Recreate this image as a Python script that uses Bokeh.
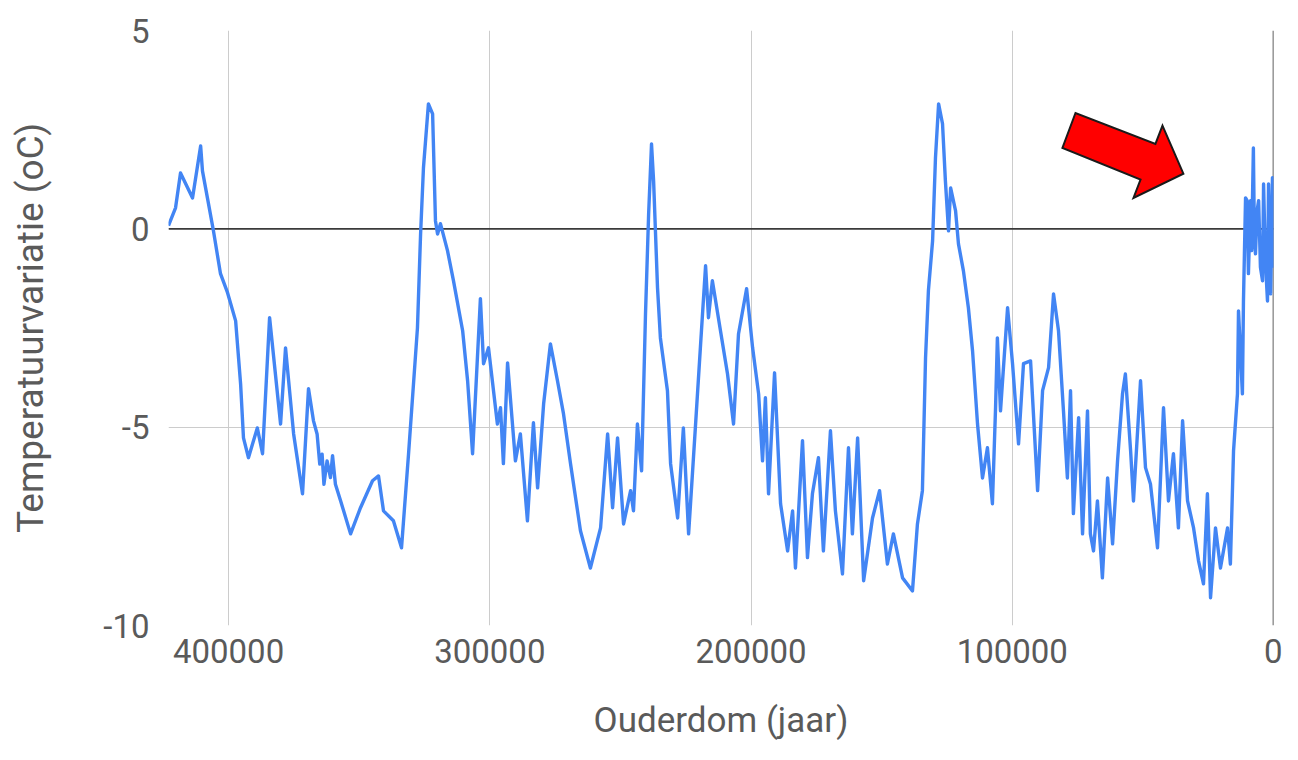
from bokeh.plotting import figure
from bokeh.models import Range1d, FixedTicker, Span
from bokeh.embed import file_html
from bokeh.resources import INLINE

# Age (years before present) and temperature variation (oC)
ages = [423000, 420300, 418400, 413800, 410700, 410000, 408100, 405800, 403100, 400400,
        397300, 395400, 394300, 392400, 389000, 387000, 384300, 380100, 378200, 375100,
        371700, 369400, 367500, 366100, 365100, 364200, 363500, 362300, 361000, 360200,
        359100, 357100, 353300, 349500, 344900, 342600,
        340700, 336900, 333800, 331100, 327700, 326500, 325400, 323500,
        321900, 320800, 320000, 318900, 316200, 313900, 310400, 308500, 306600, 303600,
        302400, 300500, 297100, 295900, 294800, 293200, 290200, 288300, 285600, 283300,
        281700, 279400, 276800, 274100, 271800, 269100, 265300, 261500, 257600, 254900,
        253000, 251100, 248800, 246100, 245000, 243500, 241900, 240400, 239200, 238100,
        237300, 235800, 234700, 232000, 230800, 228100, 225900, 223900,
        221300, 219300, 217400, 216300, 214800, 211700, 209000, 206700, 204800, 201700,
        199400, 197100, 195600, 194500, 193300, 191000, 188700, 186000, 184100, 183000,
        180300, 178400, 176500, 174200, 172300, 169600, 167700, 165000, 162700, 161200,
        159200, 156900, 153500, 150800, 147800, 145500, 142000, 138200, 136300, 134400,
        133200, 132100, 130500, 129400, 128200, 126700, 125600, 124400, 123600, 121700,
        120600, 118700, 116800, 115200, 113300, 111400, 109500, 107600, 106400, 105700,
        104500, 101800, 99900, 97600, 95700, 93000, 90300, 88400, 86100, 84200,
        82300, 80400, 78900, 77700, 76600, 74600, 73100, 71200, 70100, 68900,
        67400, 65500, 63500, 61600, 59700, 57800, 56700, 54700, 53600, 50900,
        49000, 47100, 44400, 42100, 40200, 38300, 36400, 34800, 32900, 30600,
        28700, 26800, 25300, 24100, 22200, 20300, 17600, 16500, 15300, 13800,
        13400, 11900, 11500, 10700, 10100, 9600, 8800, 8400, 7700, 7300,
        6900, 6300, 5700, 5000, 4200, 3800, 3100, 2300, 1900, 1100,
        400, 0]
temps = [0.08, 0.53, 1.41, 0.78, 2.09, 1.46, 0.78, -0.05, -1.13, -1.61,
         -2.32, -3.91, -5.27, -5.77, -5.02, -5.67, -2.24, -4.92, -3.0, -5.17,
         -6.68, -4.03, -4.84, -5.18, -5.93, -5.68, -6.44, -5.85, -6.27, -5.72,
         -6.44, -6.86, -7.69, -7.03, -6.35, -6.23,
         -7.11, -7.36, -8.04, -5.67, -2.5, -0.13, 1.54, 3.15,
         2.9, 0.2, -0.13, 0.13, -0.55, -1.31, -2.57, -3.83, -5.67, -1.76,
         -3.4, -3.0, -4.92, -4.51, -5.92, -3.38, -5.85, -5.17, -7.36, -4.89,
         -6.53, -4.41, -2.9, -3.83, -4.66, -5.92, -7.61, -8.55, -7.54, -5.17,
         -7.03, -5.27, -7.44, -6.6, -7.11, -4.92, -6.1, -2.14, 0.38, 2.14,
         1.21, -1.49, -2.75, -4.08, -5.92, -7.29, -5.02, -7.69,
         -5.0, -2.9, -0.93, -2.24, -1.31, -2.57, -3.66, -4.92, -2.65, -1.51,
         -3.0, -4.16, -5.85, -4.26, -6.68, -3.63, -6.93, -8.12, -7.11, -8.55,
         -5.34, -8.29, -6.68, -5.77, -8.12, -5.09, -7.11, -8.7, -5.52, -7.69,
         -5.27, -8.87, -7.29, -6.6, -8.45, -7.69, -8.8, -9.13, -7.44, -6.6,
         -3.25, -1.56, -0.3, 1.79, 3.15, 2.65, 1.21, -0.05, 1.03, 0.45,
         -0.38, -1.06, -1.99, -3.08, -4.92, -6.28, -5.52, -6.93, -4.51, -2.75,
         -4.59, -1.99, -3.4, -5.42, -3.4, -3.33, -6.6, -4.08, -3.5, -1.64,
         -2.57, -4.59, -6.28, -4.08, -7.18, -4.76, -7.69, -4.59, -7.69, -8.12,
         -6.86, -8.8, -6.28, -7.94, -5.85, -4.16, -3.66, -5.6, -6.86, -3.83,
         -6.02, -6.43, -8.04, -4.51, -6.86, -5.67, -7.54, -4.84, -6.86, -7.54,
         -8.37, -8.95, -6.68, -9.3, -7.54, -8.55, -7.54, -8.45, -5.6, -4.16,
         -2.07, -4.16, -1.82, 0.78, 0.71, -1.13, 0.71, -0.55, 2.04, -0.3,
         -0.63, 0.45, 0.71, -0.97, -1.31, 1.13, -0.81, -1.82, 1.13, -1.64,
         1.29, -0.98]

x_ticks = [400000, 300000, 200000, 100000, 0]
y_ticks = [-10, -5, 0, 5]
y_tick_labels = {-10: "-10", -5: "-5", 0: "0", 5: "5"}
x_tick_labels = {400000: "400000", 300000: "300000", 200000: "200000", 100000: "100000", 0: "0"}

# Red annotation arrow outline (age, temperature)
arrow_age = [75800, 80800, 50900, 53600, 34500, 42500, 45200]
arrow_temp = [2.92, 2.04, 1.24, 0.78, 1.39, 2.60, 2.14]

FONT = "Roboto"
TXT = "#5a5a5a"

p = figure(width=1282, height=744, output_backend="svg", toolbar_location=None,
           x_range=Range1d(423000, 0), y_range=Range1d(-10, 5),
           min_border_left=168, min_border_right=9, min_border_top=30,
           min_border_bottom=119)
p.outline_line_color = None
p.background_fill_color = "white"
p.border_fill_color = "white"

for ax in (p.xaxis[0], p.yaxis[0]):
    ax.axis_line_color = None
    ax.major_tick_line_color = None
    ax.minor_tick_line_color = None
    ax.major_label_text_font = FONT
    ax.major_label_text_font_size = "33px"
    ax.major_label_text_color = TXT
    ax.axis_label_text_font = FONT
    ax.axis_label_text_font_style = "normal"
    ax.axis_label_text_color = TXT

p.xaxis.axis_label_text_font_size = "35px"
p.yaxis.axis_label_text_font_size = "37px"
p.xaxis.ticker = FixedTicker(ticks=x_ticks)
p.yaxis.ticker = FixedTicker(ticks=y_ticks)
p.xaxis.major_label_overrides = x_tick_labels
p.yaxis.major_label_overrides = y_tick_labels
p.xaxis.axis_label = "Ouderdom (jaar)"
p.yaxis.axis_label = "Temperatuurvariatie (oC)"
p.xaxis.major_label_standoff = 7
p.xaxis.axis_label_standoff = 34
p.yaxis.major_label_standoff = 13
p.yaxis.axis_label_standoff = 48

p.xgrid.ticker = FixedTicker(ticks=x_ticks)
p.ygrid.ticker = FixedTicker(ticks=y_ticks)
p.grid.grid_line_color = "#cccccc"
p.grid.grid_line_width = 1

p.add_layout(Span(location=0, dimension="width", line_color="#3a3a3a",
                  line_width=1.6, level="underlay"))
p.add_layout(Span(location=0, dimension="height", line_color="#3a3a3a",
                  line_width=1.6, level="underlay"))

p.line(ages, temps, line_color="#4285f4", line_width=3.4, line_join="round")

p.patch(arrow_age, arrow_temp, fill_color="#ff0000", line_color="#1a1a1a",
        line_width=2, line_join="miter")

open("out.html", "w").write(file_html(p, INLINE))
